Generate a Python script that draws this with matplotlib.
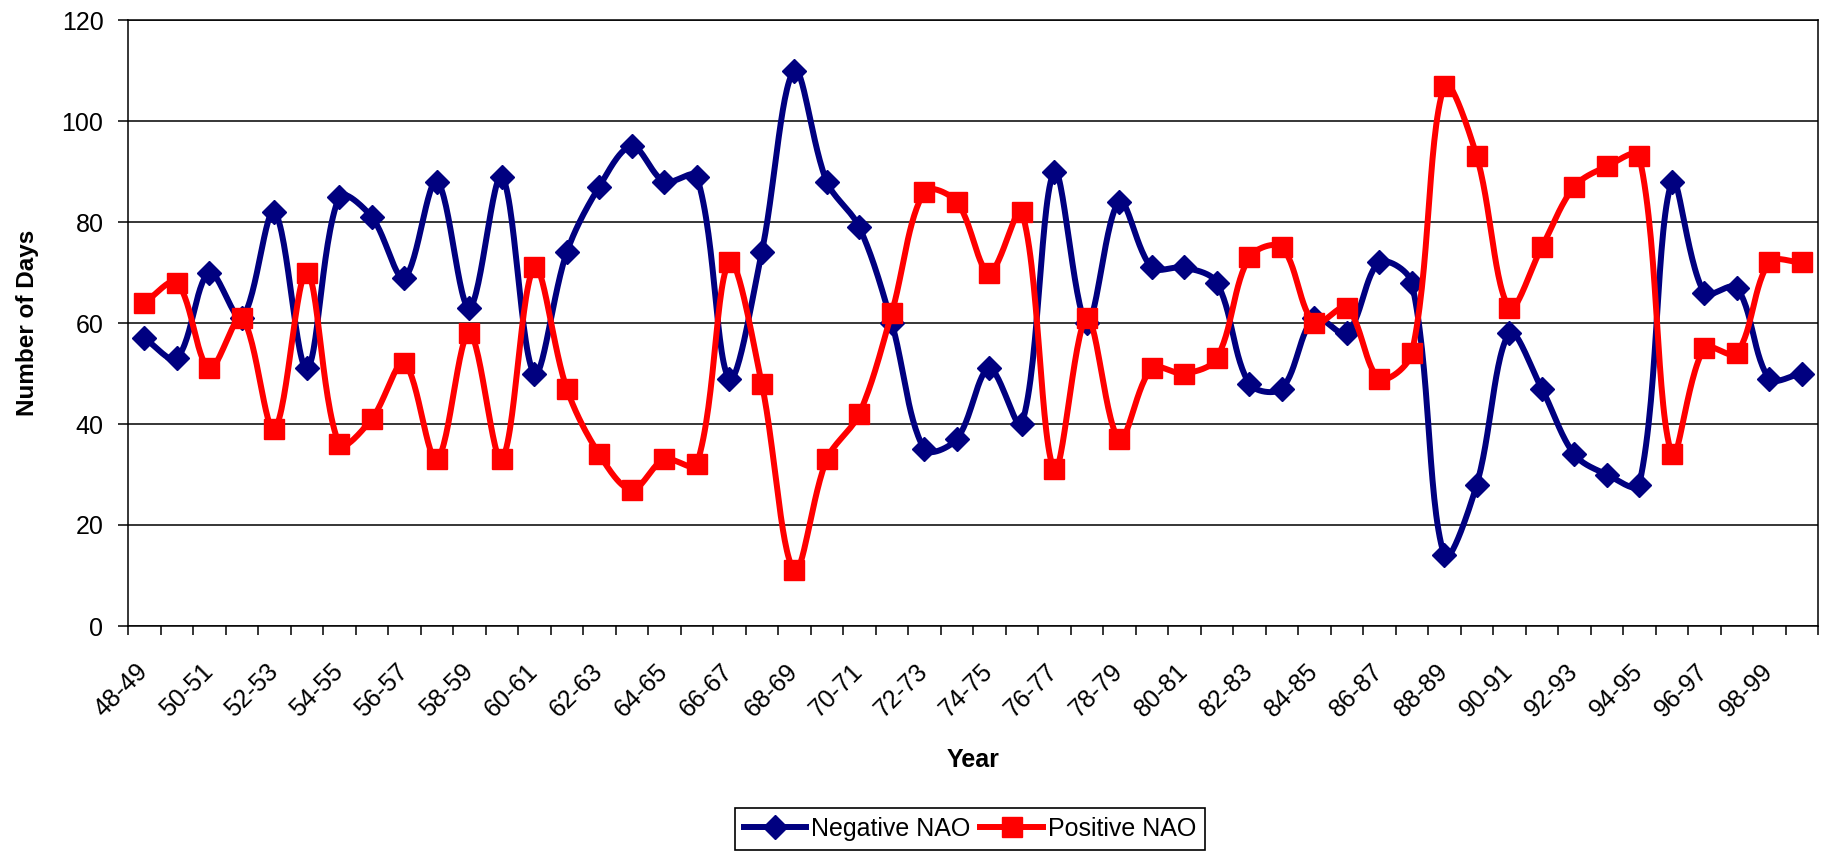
import numpy as np
import matplotlib
matplotlib.use("Agg")
import matplotlib.pyplot as plt
from matplotlib.lines import Line2D

plt.rcParams['font.family'] = ['Liberation Sans', 'DejaVu Sans']

# Winter seasons (Dec-Mar), 1948-49 through 1999-2000
seasons = [f"{y % 100:02d}-{(y + 1) % 100:02d}" for y in range(1948, 2000)]

# Number of days in each NAO phase per season
negative_nao = [57, 53, 70, 61, 82, 51, 85, 81, 69, 88, 63, 89, 50, 74, 87, 95,
                88, 89, 49, 74, 110, 88, 79, 60, 35, 37, 51, 40, 90, 60, 84, 71,
                71, 68, 48, 47, 61, 58, 72, 68, 14, 28, 58, 47, 34, 30, 28, 88,
                66, 67, 49, 50]
positive_nao = [64, 68, 51, 61, 39, 70, 36, 41, 52, 33, 58, 33, 71, 47, 34, 27,
                33, 32, 72, 48, 11, 33, 42, 62, 86, 84, 70, 82, 31, 61, 37, 51,
                50, 53, 73, 75, 60, 63, 49, 54, 107, 93, 63, 75, 87, 91, 93, 34,
                55, 54, 72, 72]

NAVY = "#000080"
RED = "#FF0000"

FIG_W, FIG_H = 1822, 855
AX_L, AX_T, AX_W, AX_H = 128, 20, 1690, 606
Y_MAX = 120


def smooth(values, n=30):
    """Smoothed line: cubic Bezier segments whose control arms follow the
    neighbour chord, scaled by the adjacent segment lengths on screen."""
    m = len(values)
    sx = AX_W / m          # pixels per category
    sy = AX_H / Y_MAX      # pixels per day
    x = np.arange(m) + 0.5
    P = np.column_stack([x * sx, np.asarray(values, float) * sy])
    d = np.linalg.norm(np.diff(P, axis=0), axis=1)       # segment lengths
    T = np.empty_like(P)
    T[1:-1] = P[2:] - P[:-2]
    T[0] = 2 * (P[1] - P[0])
    T[-1] = 2 * (P[-1] - P[-2])
    dl = np.concatenate([[d[0]], d])      # length before each point
    dr = np.concatenate([d, [d[-1]]])     # length after each point
    t = np.linspace(0, 1, n + 1)[1:, None]
    out = [P[:1]]
    for i in range(m - 1):
        p0, p3 = P[i], P[i + 1]
        c1 = p0 + T[i] * dr[i] / (dl[i] + dr[i]) / 3.0
        c2 = p3 - T[i + 1] * dl[i + 1] / (dl[i + 1] + dr[i + 1]) / 3.0
        seg = ((1 - t) ** 3) * p0 + 3 * ((1 - t) ** 2) * t * c1 \
            + 3 * (1 - t) * t ** 2 * c2 + t ** 3 * p3
        out.append(seg)
    curve = np.vstack(out)
    return curve[:, 0] / sx, curve[:, 1] / sy


fig = plt.figure(figsize=(FIG_W / 100, FIG_H / 100), dpi=100)
ax = fig.add_axes([AX_L / FIG_W, 1 - (AX_T + AX_H) / FIG_H,
                   AX_W / FIG_W, AX_H / FIG_H])

xc = np.arange(len(seasons)) + 0.5
lw = 4.3
series = [(negative_nao, NAVY, 'D', 12, 3),
          (positive_nao, RED, 's', 15, 4)]
for vals, col, mk, ms, z in series:
    cx, cy = smooth(vals)
    ax.plot(cx, cy, color=col, lw=lw, solid_joinstyle='round',
            solid_capstyle='round', zorder=z)
    ax.plot(xc, vals, linestyle='none', marker=mk, markersize=ms,
            markerfacecolor=col, markeredgecolor=col, zorder=z)

# Axes limits, grid and frame
ax.set_xlim(0, len(seasons))
ax.set_ylim(0, Y_MAX)
ax.set_yticks(np.arange(0, Y_MAX + 1, 20))
ax.yaxis.grid(True, color='black', lw=1.1)
ax.set_axisbelow(True)
for sp in ax.spines.values():
    sp.set_color('black')
    sp.set_linewidth(1.1)

ax.tick_params(axis='y', direction='out', length=7.2, width=1.1,
               pad=10.5, labelsize=18, colors='black')

# Category boundaries as tick marks, labels on every second season
ax.set_xticks(np.arange(len(seasons) + 1))
ax.set_xticklabels([])
ax.tick_params(axis='x', which='major', direction='out', length=6.5,
               width=1.1, colors='black')
ax.set_xticks(xc[::2], minor=True)
ax.set_xticklabels(seasons[::2], minor=True)
ax.tick_params(axis='x', which='minor', length=0, pad=30, labelsize=18)
for lab in ax.get_xticklabels(minor=True):
    lab.set_rotation(45)
    lab.set_ha('right')
    lab.set_va('center')
    lab.set_rotation_mode('anchor')

fig.text(28 / FIG_W, 1 - 323 / FIG_H, "Number of Days", rotation=90,
         ha='center', va='center', fontsize=17.5, fontweight='bold')
fig.text(973 / FIG_W, 1 - 760 / FIG_H, "Year", ha='center', va='center',
         fontsize=18, fontweight='bold')

handles = [
    Line2D([], [], color=NAVY, lw=lw, marker='D', markersize=12,
           markerfacecolor=NAVY, markeredgecolor=NAVY),
    Line2D([], [], color=RED, lw=lw, marker='s', markersize=15,
           markerfacecolor=RED, markeredgecolor=RED),
]
leg = fig.legend(handles, ["Negative NAO", "Positive NAO"],
                 loc='upper center', bbox_to_anchor=(970 / FIG_W, 1 - 808 / FIG_H),
                 ncol=2, frameon=True, fancybox=False, edgecolor='black',
                 framealpha=1, fontsize=18, handlelength=2.5,
                 handletextpad=0.2, columnspacing=0.4, borderpad=0.35,
                 borderaxespad=0)
leg.get_frame().set_linewidth(1.2)

fig.savefig("out.png", dpi=100, facecolor='white')
